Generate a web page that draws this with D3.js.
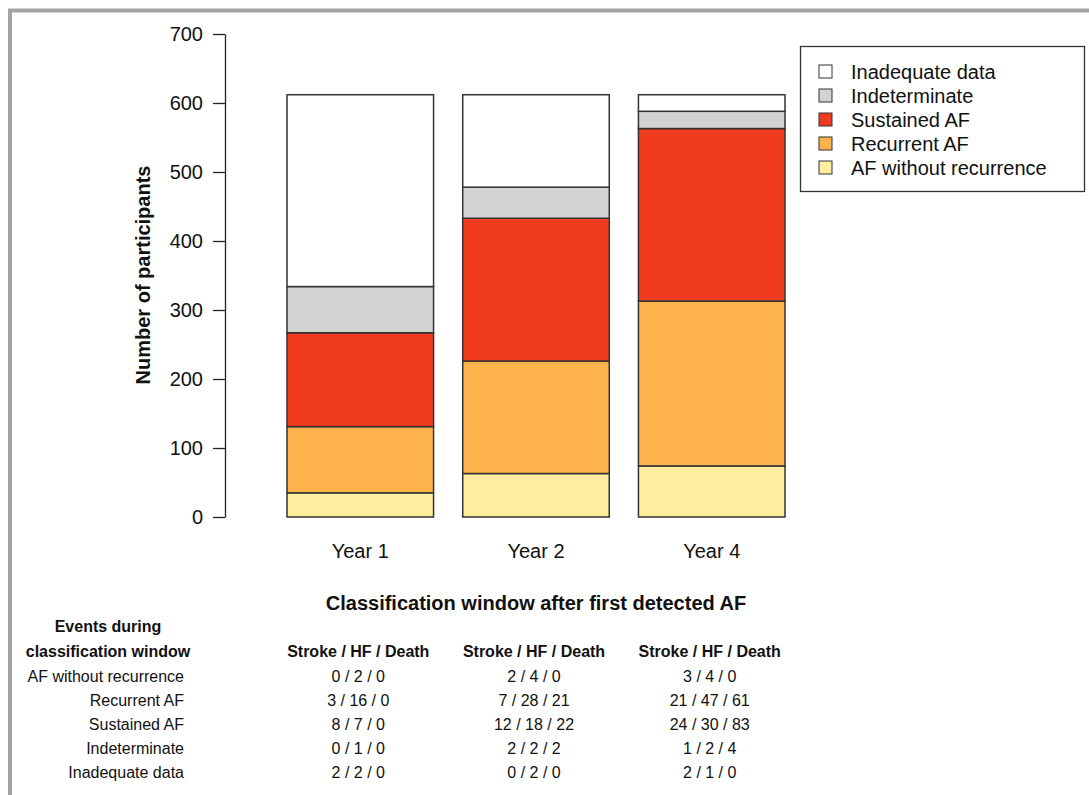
<!DOCTYPE html>
<html>
<head>
<meta charset="utf-8">
<script src="https://cdn.jsdelivr.net/npm/d3@7"></script>
<style>
  body { margin: 0; background: #fff; }
  svg { display: block; font-family: "Liberation Sans", Arial, Helvetica, sans-serif; }
</style>
</head>
<body>
<svg id="chart"></svg>
<script>
// categories and series, bottom of stack first
const years = ['Year 1', 'Year 2', 'Year 4'];
const seriesNames = ['AF without recurrence', 'Recurrent AF', 'Sustained AF', 'Indeterminate', 'Inadequate data'];
const afWithoutRecurrence = [35, 63, 74];
const recurrentAF = [96, 163, 239];
const sustainedAF = [136, 207, 250];
const indeterminate = [67, 45, 25];
const inadequateData = [278, 134, 24];
const seriesColors = ['#ffeda0', '#feb24c', '#f03b20', '#d3d3d3', '#ffffff'];
const yTicks = [0, 100, 200, 300, 400, 500, 600, 700];

// events table
const tableHeader = 'Stroke / HF / Death';
const eventsYear1 = ['0 / 2 / 0', '3 / 16 / 0', '8 / 7 / 0', '0 / 1 / 0', '2 / 2 / 0'];
const eventsYear2 = ['2 / 4 / 0', '7 / 28 / 21', '12 / 18 / 22', '2 / 2 / 2', '0 / 2 / 0'];
const eventsYear4 = ['3 / 4 / 0', '21 / 47 / 61', '24 / 30 / 83', '1 / 2 / 4', '2 / 1 / 0'];

const width = 1089, height = 795;
const svg = d3.select('#chart').attr('width', width).attr('height', height);

// grey frame (top and left only, as in the source)
svg.append('path')
  .attr('d', `M10,${height} L10,10.5 L${width},10.5`)
  .attr('fill', 'none')
  .attr('stroke', '#a3a3a3')
  .attr('stroke-width', 4);

const rows = years.map((y, i) => ({
  year: y,
  'AF without recurrence': afWithoutRecurrence[i],
  'Recurrent AF': recurrentAF[i],
  'Sustained AF': sustainedAF[i],
  'Indeterminate': indeterminate[i],
  'Inadequate data': inadequateData[i]
}));
const stacked = d3.stack().keys(seriesNames)(rows);

const xscale = d3.scaleBand().domain(years).range([287, 785]).paddingInner(0.166).paddingOuter(0);
const yscale = d3.scaleLinear().domain([0, 700]).range([517, 34]);
const color = d3.scaleOrdinal().domain(seriesNames).range(seriesColors);

// y axis
const yaxis = d3.axisLeft(yscale).tickValues(yTicks).tickSize(12).tickSizeOuter(0).tickPadding(10);
const yg = svg.append('g').attr('transform', 'translate(225,0)').call(yaxis);
yg.selectAll('path, line').attr('stroke', '#222').attr('stroke-width', 1.3);
yg.selectAll('text').attr('font-size', 20).attr('fill', '#111').attr('font-family', null);

svg.append('text')
  .attr('transform', 'translate(150,275) rotate(-90)')
  .attr('text-anchor', 'middle')
  .attr('font-size', 20)
  .attr('font-weight', 'bold')
  .attr('fill', '#111')
  .text('Number of participants');

// bars
svg.append('g').selectAll('g')
  .data(stacked)
  .join('g')
  .attr('fill', d => color(d.key))
  .selectAll('rect')
  .data(d => d)
  .join('rect')
  .attr('x', d => xscale(d.data.year))
  .attr('y', d => yscale(d[1]))
  .attr('width', xscale.bandwidth())
  .attr('height', d => yscale(d[0]) - yscale(d[1]))
  .attr('stroke', '#333')
  .attr('stroke-width', 1.5);

// x labels
const xaxis = d3.axisBottom(xscale).tickSize(0).tickPadding(0);
const xg = svg.append('g').attr('transform', 'translate(0,544)').call(xaxis);
xg.select('.domain').remove();
xg.selectAll('text').attr('font-size', 20).attr('fill', '#111').attr('font-family', null);

svg.append('text')
  .attr('x', xscale('Year 2') + xscale.bandwidth() / 2)
  .attr('y', 610)
  .attr('text-anchor', 'middle')
  .attr('font-size', 20)
  .attr('font-weight', 'bold')
  .attr('fill', '#111')
  .text('Classification window after first detected AF');

// legend
const legend = svg.append('g');
legend.append('rect')
  .attr('x', 800.5).attr('y', 46.5)
  .attr('width', 284).attr('height', 145)
  .attr('fill', '#fff').attr('stroke', '#333').attr('stroke-width', 1.3);
const legendOrder = seriesNames.slice().reverse();
const legendItem = legend.selectAll('g.item')
  .data(legendOrder)
  .join('g')
  .attr('class', 'item')
  .attr('transform', (d, i) => `translate(0, ${71.5 + i * 24})`);
legendItem.append('rect')
  .attr('x', 819).attr('y', -6.5)
  .attr('width', 13).attr('height', 13)
  .attr('fill', d => color(d))
  .attr('stroke', '#333').attr('stroke-width', 1);
legendItem.append('text')
  .attr('x', 851).attr('y', 7)
  .attr('font-size', 20)
  .attr('fill', '#111')
  .text(d => d);

// events table
const table = svg.append('g').attr('font-size', 16).attr('fill', '#111');
table.append('text').attr('x', 108).attr('y', 632).attr('text-anchor', 'middle')
  .attr('font-weight', 'bold').text('Events during');
table.append('text').attr('x', 108).attr('y', 657).attr('text-anchor', 'middle')
  .attr('font-weight', 'bold').text('classification window');

const rowY = d3.scaleLinear().domain([0, 4]).range([682, 778]);
const rowLabels = seriesNames;
table.selectAll('text.rowlab')
  .data(rowLabels)
  .join('text')
  .attr('class', 'rowlab')
  .attr('x', 184)
  .attr('y', (d, i) => rowY(i))
  .attr('text-anchor', 'end')
  .text(d => d);

const eventCols = [eventsYear1, eventsYear2, eventsYear4];
years.forEach((yr, c) => {
  const cx = xscale(yr) + xscale.bandwidth() / 2 - 2;
  table.append('text').attr('x', cx).attr('y', 657).attr('text-anchor', 'middle')
    .attr('font-weight', 'bold').text(tableHeader);
  table.selectAll(null)
    .data(eventCols[c])
    .join('text')
    .attr('x', cx)
    .attr('y', (d, i) => rowY(i))
    .attr('text-anchor', 'middle')
    .text(d => d);
});
</script>
</body>
</html>
